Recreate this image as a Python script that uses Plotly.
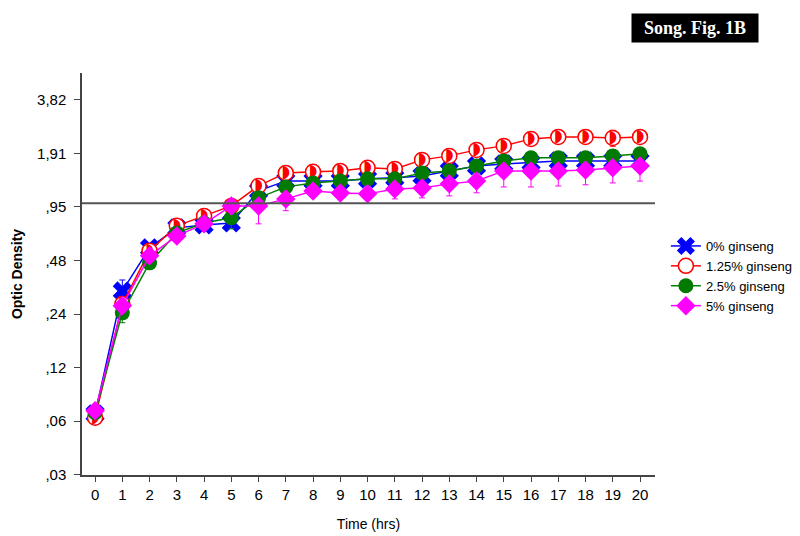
import plotly.graph_objects as go

hours = list(range(21))

od_0 = [0.0657, 0.322, 0.562, 0.728, 0.756, 0.776, 1.174, 1.336, 1.336, 1.336, 1.372,
        1.39, 1.426, 1.521, 1.623, 1.665, 1.69, 1.731, 1.731, 1.731, 1.731]
od_125 = [0.0625, 0.272, 0.541, 0.747, 0.850, 0.967, 1.253, 1.482, 1.502, 1.521, 1.582,
          1.561, 1.754, 1.847, 1.996, 2.102, 2.301, 2.361, 2.361, 2.331, 2.361]
od_25 = [0.0666, 0.2425, 0.463, 0.682, 0.776, 0.829, 1.073, 1.237, 1.302, 1.336, 1.372,
         1.372, 1.482, 1.521, 1.623, 1.731, 1.80, 1.80, 1.80, 1.847, 1.896]
od_5 = [0.0683, 0.266, 0.507, 0.656, 0.767, 0.967, 0.967, 1.059, 1.174, 1.144, 1.130,
        1.205, 1.221, 1.286, 1.336, 1.521, 1.521, 1.521, 1.541, 1.582, 1.623]

err_0_plus = [0.003, 0.049, 0.02, 0.02, 0.02, 0.03, 0.03, 0.03, 0.03, 0.03, 0.03,
              0.03, 0.03, 0.03, 0.03, 0.03, 0.03, 0.03, 0.03, 0.03, 0.03]
err_125 = [0.003, 0.01, 0.02, 0.03, 0.02, 0.02, 0.03, 0.03, 0.03, 0.03, 0.03,
           0.03, 0.03, 0.03, 0.03, 0.04, 0.04, 0.04, 0.04, 0.24, 0.04]
err_25_minus = [0.003, 0.029, 0.02, 0.03, 0.03, 0.11, 0.03, 0.03, 0.03, 0.03, 0.03,
                0.03, 0.03, 0.03, 0.03, 0.03, 0.03, 0.03, 0.03, 0.03, 0.03]
err_5_minus = [0.003, 0.01, 0.02, 0.02, 0.02, 0.03, 0.20, 0.15, 0.04, 0.04, 0.04,
               0.146, 0.148, 0.185, 0.19, 0.285, 0.285, 0.27, 0.27, 0.28, 0.29]

y_tickvals = [0.0298, 0.0597, 0.1194, 0.2387, 0.4775, 0.955, 1.91, 3.82]
y_ticktext = [",03", ",06", ",12", ",24", ",48", ",95", "1,91", "3,82"]
ref_level = 1.0

fig = go.Figure()

fig.add_trace(go.Scatter(
    x=hours, y=od_0, name="0% ginseng", mode="lines+markers",
    line=dict(color="#0000ff", width=1.5),
    marker=dict(symbol="x", size=17, color="#0000ff"),
    error_y=dict(type="data", symmetric=False, array=err_0_plus,
                 arrayminus=[0] * 21, color="#0000ff", thickness=1, width=3),
))
fig.add_trace(go.Scatter(
    x=hours, y=od_125, name="1.25% ginseng", mode="lines+markers",
    line=dict(color="#ff0000", width=1.5),
    marker=dict(symbol="circle", size=15, color="white",
                line=dict(color="#ff0000", width=1.5)),
    error_y=dict(type="data", array=err_125, color="#ff0000", thickness=1, width=3),
))
fig.add_trace(go.Scatter(
    x=hours, y=od_125, showlegend=False, mode="text", hoverinfo="skip",
    text=["\u25D7"] * 21, textposition="middle center",
    textfont=dict(family="DejaVu Sans", size=17, color="#ff0000"),
))
fig.add_trace(go.Scatter(
    x=hours, y=od_25, name="2.5% ginseng", mode="lines+markers",
    line=dict(color="#008000", width=1.5),
    marker=dict(symbol="circle", size=15, color="#007a00"),
    error_y=dict(type="data", symmetric=False, array=[0] * 21,
                 arrayminus=err_25_minus, color="#008000", thickness=1, width=3),
))
fig.add_trace(go.Scatter(
    x=hours, y=od_5, name="5% ginseng", mode="lines+markers",
    line=dict(color="#ff00ff", width=1.5),
    marker=dict(symbol="diamond", size=15, color="#ff00ff"),
    error_y=dict(type="data", symmetric=False, array=[0] * 21,
                 arrayminus=err_5_minus, color="#ff00ff", thickness=1, width=3),
))

fig.add_hline(y=ref_level, line=dict(color="#555555", width=2))

fig.update_layout(
    width=800, height=536,
    margin=dict(l=74, r=153, t=65, b=69, autoexpand=False),
    plot_bgcolor="white", paper_bgcolor="white",
    font=dict(family="Liberation Sans, Arial", size=15, color="black"),
    showlegend=True,
    legend=dict(x=1.019, y=0.607, xanchor="left", yanchor="top",
                font=dict(size=13), tracegroupgap=0, itemwidth=30),
    xaxis=dict(range=[-0.48, 20.55], tickmode="array", tickvals=hours,
               automargin=False,
               showgrid=False, zeroline=False, showline=True,
               linecolor="#444444", linewidth=1.5, ticks="outside",
               ticklen=5, tickcolor="#444444", tickfont=dict(size=15),
               title=dict(text="Time (hrs)", standoff=17, font=dict(size=14))),
    yaxis=dict(type="log", range=[-1.526, 0.732], tickmode="array",
               tickvals=y_tickvals, ticktext=y_ticktext, automargin=False,
               showgrid=False, zeroline=False, showline=True,
               linecolor="#444444", linewidth=1.5, ticks="outside",
               ticklen=6, tickcolor="#444444", tickfont=dict(size=15),
               ticklabelstandoff=5,
               title=dict(text="<b>Optic Density</b>", standoff=11,
                          font=dict(size=14))),
    annotations=[dict(
        text="<b>Song. Fig. 1B</b>", xref="paper", yref="paper",
        x=1.0698, y=1.112, xanchor="center", yanchor="middle",
        showarrow=False, bgcolor="black", borderpad=4, width=118, height=20,
        font=dict(family="Liberation Serif", size=18, color="white"),
    )],
)

fig.write_html("out.html")
